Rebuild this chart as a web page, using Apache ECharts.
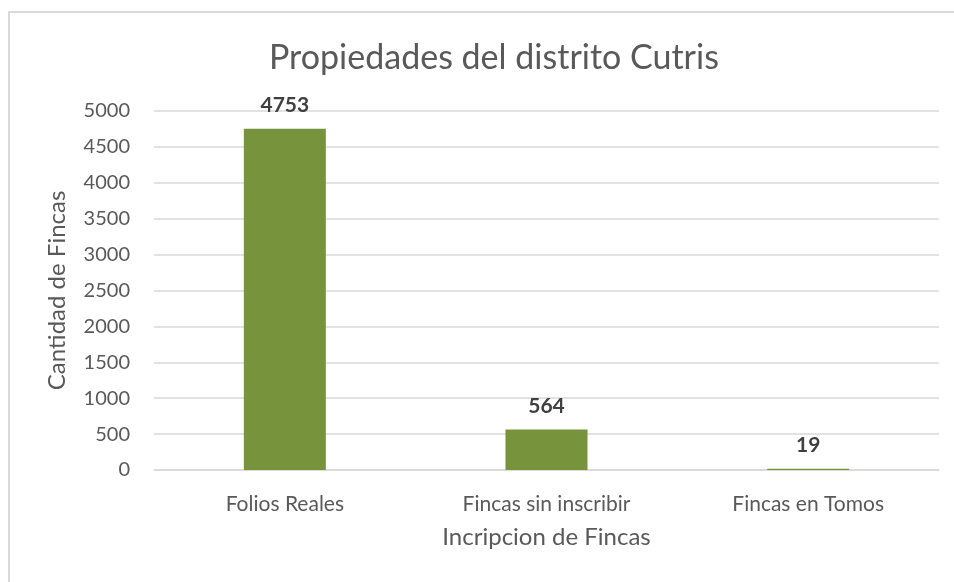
<!DOCTYPE html>
<html>
<head>
<meta charset="utf-8">
<script src="https://cdn.jsdelivr.net/npm/echarts@6/dist/echarts.min.js"></script>
<style>
  html, body { margin: 0; padding: 0; background: #fff; }
  #chart { width: 954px; height: 582px; }
</style>
</head>
<body>
<div id="chart"></div>
<script>
// datos
const categorias = ['Folios Reales', 'Fincas sin inscribir', 'Fincas en Tomos'];
const cantidades = [4753, 564, 19];
const titulo = 'Propiedades del distrito Cutris';

const chart = echarts.init(document.getElementById('chart'));
const fuente = 'Lato, "Open Sans", sans-serif';

chart.setOption({
  animation: false,
  textStyle: { fontFamily: fuente },
  title: {
    text: titulo,
    left: 264,
    top: 36,
    textStyle: { fontFamily: fuente, fontSize: 34, fontWeight: 'normal', color: '#595959' }
  },
  // marco del grafico
  graphic: [{
    type: 'rect',
    shape: { x: 9, y: 12, width: 960, height: 600 },
    style: { fill: 'none', stroke: '#d9d9d9', lineWidth: 2 },
    silent: true
  }],
  grid: { left: 154, right: 15, top: 111, bottom: 112 },
  xAxis: {
    type: 'category',
    data: categorias,
    name: 'Incripcion de Fincas',
    nameLocation: 'middle',
    nameGap: 55,
    nameTextStyle: { fontSize: 24, color: '#595959' },
    axisLine: { lineStyle: { color: '#d9d9d9', width: 1.5 } },
    axisTick: { show: false },
    axisLabel: { fontSize: 21, color: '#595959', margin: 24 }
  },
  yAxis: {
    type: 'value',
    min: 0,
    max: 5000,
    interval: 500,
    name: 'Cantidad de Fincas',
    nameLocation: 'middle',
    nameGap: 85,
    nameTextStyle: { fontSize: 24, color: '#595959' },
    axisLine: { show: false },
    axisTick: { show: false },
    axisLabel: { fontSize: 20, color: '#595959', margin: 24, formatter: v => String(v) },
    splitLine: { lineStyle: { color: '#d9d9d9', width: 1.5 } }
  },
  series: [{
    type: 'bar',
    data: cantidades,
    barWidth: 82,
    itemStyle: { color: '#77933C' },
    label: {
      show: true,
      position: 'top',
      distance: 13,
      fontSize: 21,
      fontWeight: 'bold',
      color: '#404040'
    }
  }]
});
</script>
</body>
</html>
